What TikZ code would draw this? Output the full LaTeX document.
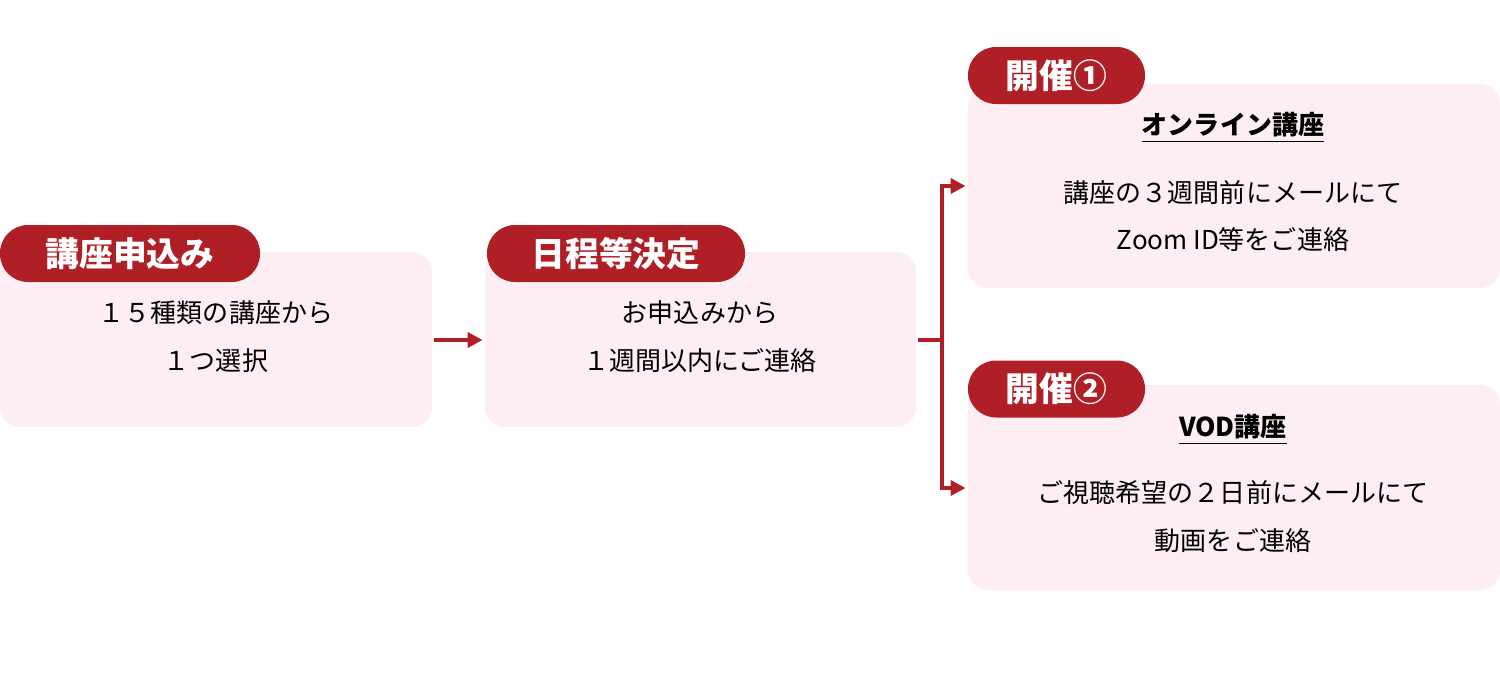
\documentclass[tikz,border=0pt]{standalone}
\usepackage{fontspec}
\setmainfont{Noto Sans CJK JP}
\usetikzlibrary{arrows.meta}
\definecolor{boxpink}{HTML}{FDEEF4}
\definecolor{tagred}{HTML}{B01E26}
\tikzset{
  panel/.style={fill=boxpink, rounded corners=0.2cm, inner sep=0pt},
  tag/.style={fill=tagred, text=white, rounded corners=0.28cm, minimum height=0.57cm, inner sep=0pt, font=\fontsize{9.6pt}{11pt}\selectfont\bfseries},
  body/.style={align=center, font=\fontsize{7.4pt}{13.6pt}\selectfont},
  head/.style={font=\fontsize{7.4pt}{9pt}\selectfont\bfseries},
  flow/.style={draw=tagred, line width=1.4pt, -{Triangle[length=0.15cm,width=0.15cm]}}
}
\begin{document}
\begin{tikzpicture}
    \useasboundingbox (0,0) rectangle (15,-6.78);
    \fill[panel] (0,-2.52) rectangle (4.32,-4.27);
    \fill[panel] (4.85,-2.52) rectangle (9.16,-4.27);
    \fill[panel] (9.68,-0.84) rectangle (15,-2.88);
    \fill[panel] (9.68,-3.85) rectangle (15,-5.90);
    \node (p1) at (0,-3.4) [minimum width=0pt] {};
    \node[inner sep=0pt] (e1) at (4.32,-3.4) {};
    \node[inner sep=0pt] (s2) at (4.85,-3.4) {};
    \node[inner sep=0pt] (e2) at (9.16,-3.4) {};
    \node[inner sep=0pt] (s3) at (9.68,-1.86) {};
    \node[inner sep=0pt] (s4) at (9.68,-4.88) {};
    \coordinate (fork) at (9.42,-3.4);
    \node[tag, minimum width=2.6cm] (t1) at (1.30,-2.535) {講座申込み};
    \node[tag, minimum width=2.58cm] (t2) at (6.16,-2.535) {日程等決定};
    \node[tag, minimum width=1.77cm] (t3) at (10.565,-0.755) {開催①};
    \node[tag, minimum width=1.77cm] (t4) at (10.565,-3.89) {開催②};
    \node[body] (b1) at (2.16,-3.37) {１５種類の講座から\\１つ選択};
    \node[body] (b2) at (7.0,-3.37) {お申込みから\\１週間以内にご連絡};
    \node[head] (h3) at (12.33,-1.28) {\underline{オンライン講座}};
    \node[body] (b3) at (12.33,-2.16) {講座の３週間前にメールにて\\Zoom ID等をご連絡};
    \node[head] (h4) at (12.33,-4.30) {\underline{VOD講座}};
    \node[body] (b4) at (12.33,-5.17) {ご視聴希望の２日前にメールにて\\動画をご連絡};
    \draw[flow] (e1) -- (s2);
    \draw[flow] (e2) -- (fork) |- (s3);
    \draw[flow] (fork) |- (s4);
\end{tikzpicture}
\end{document}
